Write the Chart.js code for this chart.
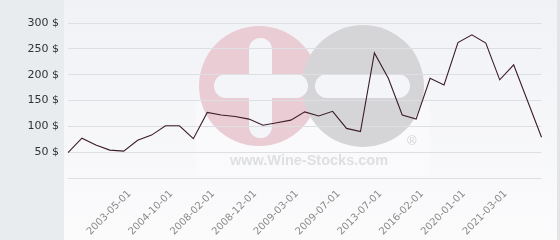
<!DOCTYPE html>
<html>
<head>
<meta charset="utf-8">
<script src="https://cdn.jsdelivr.net/npm/chart.js@4"></script>
<style>
  html, body { margin: 0; padding: 0; background: #e9ecef; }
  #wrap { width: 560px; height: 240px; position: relative; }
</style>
</head>
<body>
<div id="wrap"><canvas id="priceChart" width="560" height="240"></canvas></div>
<script>
// Dates shown on the axis (only every third point is labelled in the picture)
const dates = [
    "", "", "", "", "2003-05-01", "", "", "2004-10-01", "", "",
    "2008-02-01", "", "", "2008-12-01", "", "", "2009-03-01", "", "",
    "2009-07-01", "", "", "2013-07-01", "", "", "2016-02-01", "", "",
    "2020-01-01", "", "", "2021-03-01", "", "", ""
];

// Price in $
const prices = [
    49, 77, 64, 54, 52, 73, 83, 101, 101, 76,
    127, 122, 119, 114, 102, 107, 112, 128, 120, 129,
    96, 90, 242, 193, 122, 114, 193, 180, 262, 277,
    261, 190, 219, 149, 79
];

const yTicks = [0, 50, 100, 150, 200, 250, 300];

// Background, side panel and the Wine-Stocks watermark
const backdrop = {
    id: "backdrop",
    beforeDraw(chart) {
        const ctx = chart.ctx;
        ctx.save();
        const g = ctx.createLinearGradient(0, 0, 0, 240);
        g.addColorStop(0, "#f1f2f6");
        g.addColorStop(1, "#fbfbfc");
        ctx.fillStyle = g;
        ctx.fillRect(64, 0, 493, 240);
        ctx.fillStyle = "#e9ecef";
        ctx.fillRect(0, 0, 64, 240);
        ctx.fillStyle = "#e2e4e8";
        ctx.fillRect(557, 0, 3, 240);

        ctx.fillStyle = "rgba(255,255,255,0.35)";
        ctx.fillRect(196, 100, 234, 76);

        // pink circle with plus
        ctx.fillStyle = "#eacdd4";
        ctx.beginPath();
        ctx.arc(259, 86, 60, 0, Math.PI * 2);
        ctx.fill();
        // grey circle with minus
        ctx.fillStyle = "#d5d5d7";
        ctx.beginPath();
        ctx.arc(363, 86, 61, 0, Math.PI * 2);
        ctx.fill();

        ctx.fillStyle = "#f4f5f8";
        const bar = (x, y, w, h) => {
            const r = Math.min(w, h) / 2;
            ctx.beginPath();
            ctx.roundRect(x, y, w, h, r);
            ctx.fill();
        };
        bar(214, 74, 94, 24);
        bar(249, 38, 23, 100);
        bar(315, 74, 95, 24);

        ctx.fillStyle = "#dedfe1";
        ctx.font = "bold 14.5px 'Liberation Sans', Arial, sans-serif";
        ctx.textAlign = "left";
        ctx.textBaseline = "middle";
        ctx.fillText("www.Wine-Stocks.com", 230, 161);
        ctx.fillStyle = "#d3d3d5";
        ctx.font = "13px 'Liberation Sans', Arial, sans-serif";
        ctx.fillText("\u00AE", 407, 141);
        ctx.restore();
    }
};

document.addEventListener("DOMContentLoaded", () => {
    const ctx = document.getElementById("priceChart").getContext("2d");
    new Chart(ctx, {
        type: "line",
        data: {
            labels: dates,
            datasets: [{
                label: "Price",
                data: prices,
                borderColor: "#3b1c28",
                borderWidth: 1.1,
                pointRadius: 0,
                tension: 0,
                fill: false
            }]
        },
        options: {
            responsive: false,
            animation: false,
            layout: { padding: { top: 23, right: 6, left: 0, bottom: 0 } },
            plugins: { legend: { display: false }, tooltip: { enabled: false } },
            scales: {
                x: {
                    offset: false,
                    grid: { display: false, drawTicks: false },
                    border: { display: false },
                    ticks: {
                        autoSkip: false,
                        minRotation: 45,
                        maxRotation: 45,
                        padding: 10,
                        labelOffset: 6,
                        color: "#8a8a8a",
                        font: { family: "DejaVu Sans", size: 10 }
                    },
                    afterFit: scale => { scale.height = 62; }
                },
                y: {
                    min: 0,
                    max: 300,
                    afterBuildTicks: scale => { scale.ticks = yTicks.map(v => ({ value: v })); },
                    grid: { color: "#dedfe2", lineWidth: 1, drawTicks: false },
                    border: { display: false },
                    ticks: {
                        padding: 9,
                        color: "#333",
                        font: { family: "DejaVu Sans", size: 11 },
                        callback: v => v === 0 ? "" : v + " $"
                    },
                    afterFit: scale => { scale.width = 68; }
                }
            }
        },
        plugins: [backdrop]
    });
});
</script>
</body>
</html>
